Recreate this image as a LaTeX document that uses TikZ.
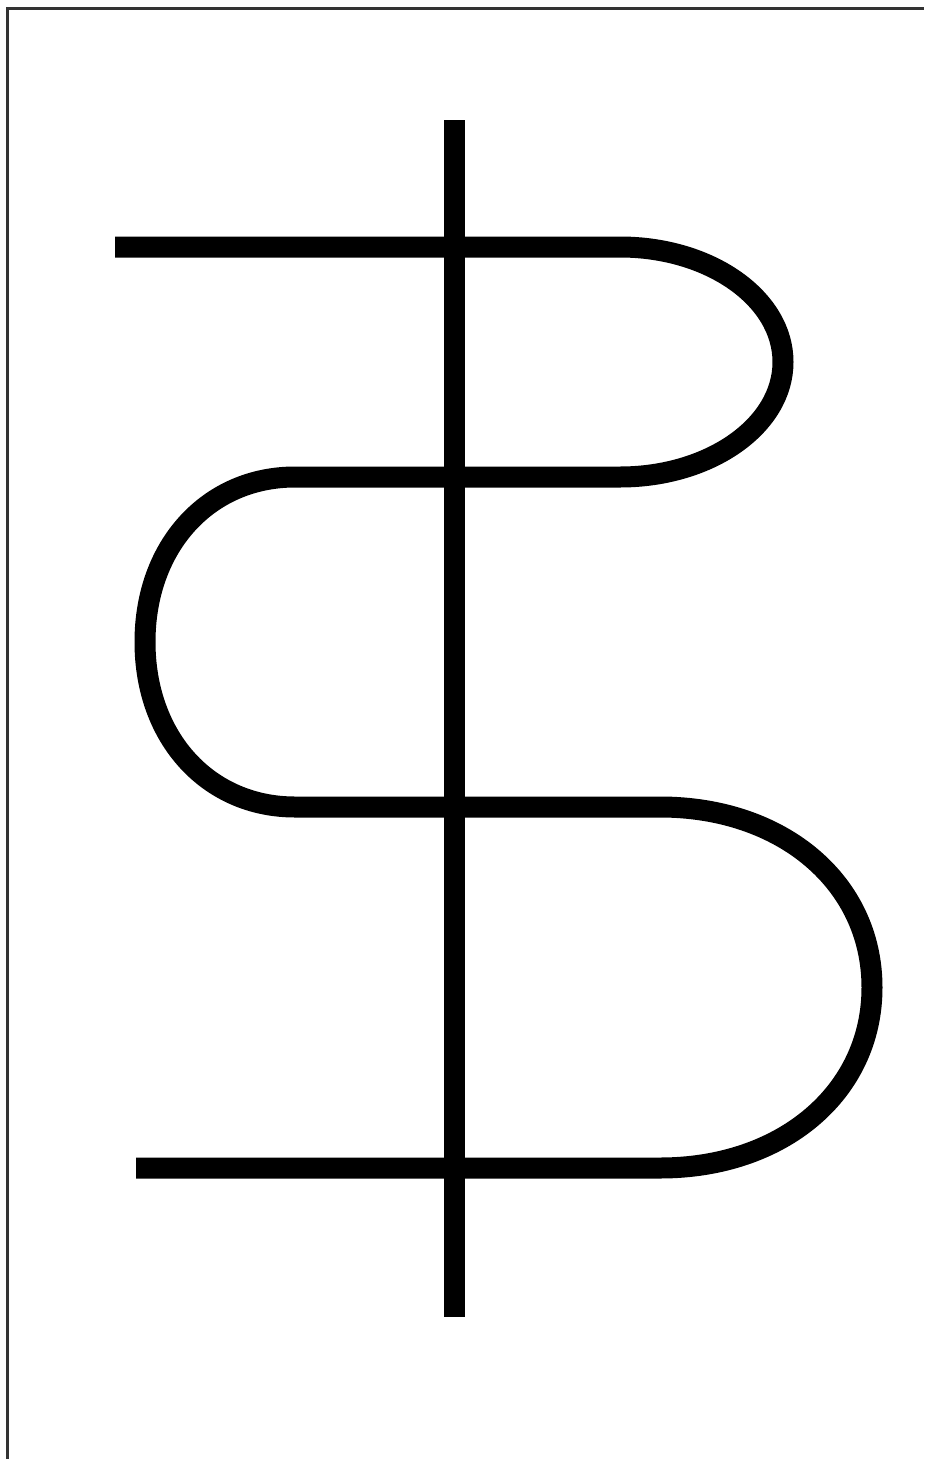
\documentclass[tikz,border=0pt]{standalone}
\begin{document}
\begin{tikzpicture}[x=1pt,y=-1pt,
  stroke/.style={line width=21pt,line cap=butt,line join=round,black},
  frame/.style={line width=2.5pt,draw=black!80}]
\useasboundingbox (0,0) rectangle (924,1459);
\fill[white] (0,0) rectangle (924,1459);
% frame (top and left only)
\draw[frame] (7.5,1459) -- (7.5,8.5) -- (924,8.5);
% named points
\coordinate (vtop) at (454,120);
\coordinate (vbot) at (454,1317);
\coordinate (s) at (115,247);
\coordinate (e) at (136,1168);
% serpentine
\draw[stroke] (s) -- (620,247)
  arc[start angle=-90,end angle=90,x radius=163,y radius=115]
  -- (295,477)
  .. controls (208,477) and (145,546) .. (145,642)
  .. controls (145,738) and (208,807) .. (295,807)
  -- (660,807)
  .. controls (783,807) and (872,883) .. (872,987.5)
  .. controls (872,1092) and (783,1168) .. (660,1168)
  -- (e);
% vertical bar
\draw[stroke] (vtop) -- (vbot);
\end{tikzpicture}
\end{document}
